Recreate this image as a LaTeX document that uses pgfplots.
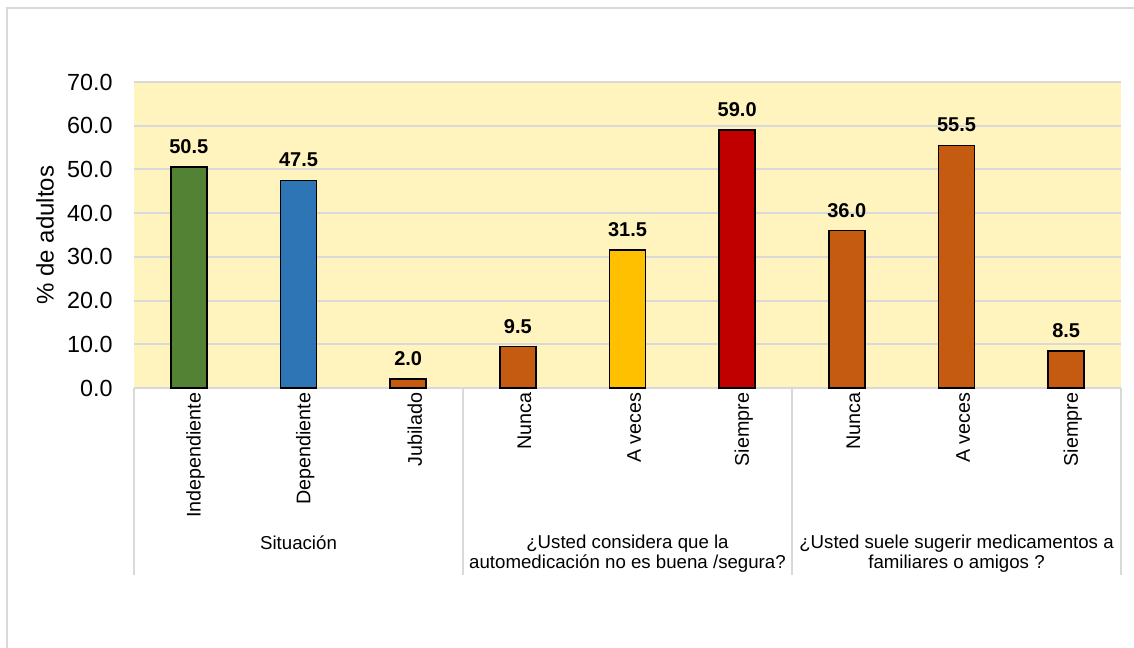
\documentclass[border=0pt]{standalone}
\usepackage{pgfplots}
\pgfplotsset{compat=1.18}
\usepackage{fontspec}
\setmainfont{Liberation Sans}

\definecolor{bgyellow}{HTML}{FFF4BE}
\definecolor{gridgray}{HTML}{D9D9D9}
\definecolor{cgreen}{HTML}{548235}
\definecolor{cblue}{HTML}{2E75B6}
\definecolor{corange}{HTML}{C55A11}
\definecolor{cgold}{HTML}{FFC000}
\definecolor{cred}{HTML}{C00000}

\begin{document}
\begin{tikzpicture}
\useasboundingbox (0,0) rectangle (850.5pt,486pt);
% outer frame (left and top only visible)
\draw[gridgray, line width=1.5pt] (5.25pt,0) -- (5.25pt,480pt) -- (850.5pt,480pt);

\begin{axis}[
    at={(100.5pt,195pt)}, anchor=south west,
    scale only axis,
    width=740.25pt, height=229.5pt,
    ybar, bar width=27pt, bar shift=0pt,
    xmin=-0.5, xmax=8.5,
    ymin=0, ymax=70,
    ytick={0,10,...,70},
    xtick={0,...,8},
    xticklabels={Independiente,Dependiente,Jubilado,Nunca,A veces,Siempre,Nunca,A veces,Siempre},
    axis line style={draw=none},
    major tick length=0pt,
    ymajorgrids,
    grid style={gridgray, line width=1.5pt},
    axis background/.style={fill=bgyellow},
    clip=false,
    /pgf/number format/assume math mode=true,
    yticklabel style={/pgf/number format/fixed, /pgf/number format/fixed zerofill,
        /pgf/number format/precision=1, font=\fontsize{17.5}{19}\selectfont, xshift=-12.5pt},
    xticklabel style={rotate=90, anchor=east, font=\fontsize{14.8}{16}\selectfont, yshift=-5pt},
    ylabel={\% de adultos},
    every axis y label/.style={at={(axis description cs:-0.0902,0.5)}, rotate=90, anchor=center,
        font=\fontsize{18}{20}\selectfont},
    nodes near coords={\pgfmathprintnumber[fixed,fixed zerofill,precision=1]{\pgfplotspointmeta}},
    every node near coord/.append style={font=\bfseries\fontsize{15}{17}\selectfont, yshift=6pt},
    every axis plot/.append style={draw=black, line width=1.2pt},
]
\addplot[fill=cgreen] coordinates {(0,50.5)};
\addplot[fill=cblue] coordinates {(1,47.5)};
\addplot[fill=corange] coordinates {(2,2.0) (3,9.5) (6,36.0) (7,55.5) (8,8.5)};
\addplot[fill=cgold] coordinates {(4,31.5)};
\addplot[fill=cred] coordinates {(5,59.0)};

% category axis separators
\draw[gridgray, line width=1.5pt] (axis cs:-0.5,0) -- ++(0pt,-140.25pt);
\draw[gridgray, line width=1.5pt] (axis cs:2.5,0) -- ++(0pt,-140.25pt);
\draw[gridgray, line width=1.5pt] (axis cs:5.5,0) -- ++(0pt,-140.25pt);
\draw[gridgray, line width=1.5pt] (axis cs:8.5,0) -- ++(0pt,-140.25pt);
% group labels
\begin{scope}[every node/.style={anchor=north, inner sep=0pt, align=center,
      font=\fontsize{14}{14.5}\selectfont}]
\node at ([yshift=-110.25pt]axis cs:1,0) {Situación};
\node at ([yshift=-110.25pt]axis cs:4,0) {¿Usted considera que la\\automedicación no es buena /segura?};
\node at ([yshift=-110.25pt]axis cs:7,0) {¿Usted suele sugerir medicamentos a\\familiares o amigos ?};
\end{scope}
\end{axis}
\end{tikzpicture}
\end{document}
